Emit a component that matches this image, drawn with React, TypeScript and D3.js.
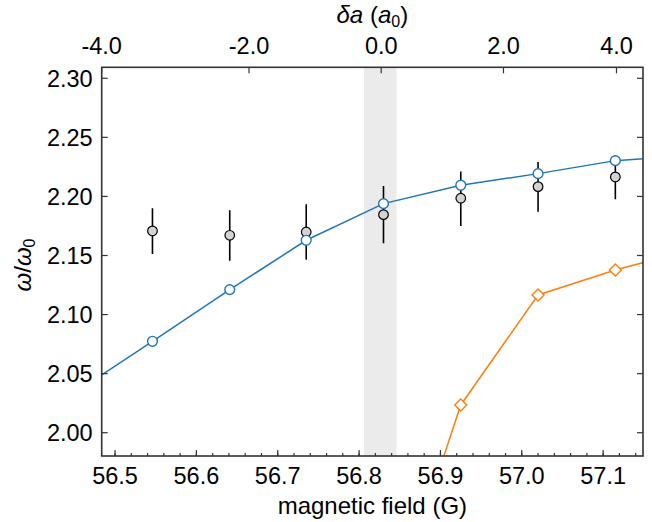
import React from 'react';
import * as d3 from 'd3';

// magnetic field of the calculated / measured points (G)
const lineField = [56.451, 56.546, 56.641, 56.735, 56.83, 56.925, 57.02, 57.115, 57.21];
// calculated branches (null = no point on that branch)
const blueBranch = [2.034, 2.0774, 2.1211, 2.1629, 2.1939, 2.2095, 2.2193, 2.2303, 2.2346];
const orangeBranch = [null, null, null, null, 1.826, 2.0235, 2.1166, 2.1378, 2.155];
const blueMarkerIdx = [1, 2, 3, 4, 5, 6, 7];
const orangeMarkerIdx = [5, 6, 7];

// measured points with error bars
const expField = [56.546, 56.641, 56.735, 56.83, 56.925, 57.02, 57.115];
const expMean = [2.1708, 2.1671, 2.1699, 2.1846, 2.1985, 2.2083, 2.2165];
const expLow = [2.1513, 2.1456, 2.1465, 2.1604, 2.175, 2.1871, 2.1976];
const expHigh = [2.19, 2.1883, 2.1934, 2.2089, 2.221, 2.2292, 2.2351];

// top axis: scattering length offset and where it sits on the field axis
const deltaATicks = [-4, -2, 0, 2, 4];
const deltaAField = [56.4836, 56.6647, 56.8272, 56.9775, 57.1164];

const resonanceBand = [56.806, 56.846];

const fieldTicks = [56.5, 56.6, 56.7, 56.8, 56.9, 57.0, 57.1];
const freqTicks = [2.0, 2.05, 2.1, 2.15, 2.2, 2.25, 2.3];

const W = 652;
const H = 522;
const margin = { top: 67.3, right: 9, bottom: 66, left: 101.7 };
const FONT = '"Liberation Sans", Arial, sans-serif';
const AX = '#333';
const BLUE = '#1f77b4';
const ORANGE = '#ff7f0e';

export default function App() {
  const x = d3.scaleLinear().domain([56.4836, 57.149]).range([margin.left, W - margin.right]);
  const y = d3.scaleLinear().domain([1.9803, 2.3093]).range([H - margin.bottom, margin.top]);
  const top = d3.scaleLinear().domain(deltaATicks).range(deltaAField);

  const x0 = margin.left;
  const x1 = W - margin.right;
  const y0 = margin.top;
  const y1 = H - margin.bottom;

  const line = d3
    .line<number | null>()
    .defined((d) => d !== null)
    .x((_, i) => x(lineField[i]))
    .y((d) => y(d as number));

  const minorTicks = d3.range(56.5, 57.149, 0.02).filter((v) => x(v) > x0 + 1 && x(v) < x1 - 1);

  return (
    <svg width={W} height={H} style={{ position: 'absolute', left: 0, top: 0 }} fontFamily={FONT}>
      <defs>
        <clipPath id="plot">
          <rect x={x0} y={y0} width={x1 - x0} height={y1 - y0} />
        </clipPath>
      </defs>
      <rect x={0} y={0} width={W} height={H} fill="#fff" />

      <g clipPath="url(#plot)">
        <rect
          x={x(resonanceBand[0])}
          y={y0}
          width={x(resonanceBand[1]) - x(resonanceBand[0])}
          height={y1 - y0}
          fill="#ebebeb"
        />
        <path d={line(orangeBranch) || ''} fill="none" stroke={ORANGE} strokeWidth={1.5} />
        <path d={line(blueBranch) || ''} fill="none" stroke={BLUE} strokeWidth={1.5} />

        {expField.map((f, i) => (
          <g key={'e' + i}>
            <line x1={x(f)} x2={x(f)} y1={y(expLow[i])} y2={y(expHigh[i])} stroke="#000" strokeWidth={1.6} />
            <circle cx={x(f)} cy={y(expMean[i])} r={4.8} fill="#d3d3d3" stroke="#000" strokeWidth={1.2} />
          </g>
        ))}

        {orangeMarkerIdx.map((i) => {
          const cx = x(lineField[i]);
          const cy = y(orangeBranch[i] as number);
          const s = 6;
          return (
            <path
              key={'o' + i}
              d={`M${cx},${cy - s}L${cx + s},${cy}L${cx},${cy + s}L${cx - s},${cy}Z`}
              fill="#fff"
              stroke={ORANGE}
              strokeWidth={1.4}
            />
          );
        })}
        {blueMarkerIdx.map((i) => (
          <circle
            key={'b' + i}
            cx={x(lineField[i])}
            cy={y(blueBranch[i])}
            r={4.9}
            fill="#fff"
            stroke={BLUE}
            strokeWidth={1.4}
          />
        ))}
      </g>

      {/* ticks */}
      <g stroke={AX} strokeWidth={1.2}>
        {fieldTicks.map((t) => (
          <line key={'bx' + t} x1={x(t)} x2={x(t)} y1={y1} y2={y1 - 6} />
        ))}
        {minorTicks.map((t) => (
          <line key={'mx' + t} x1={x(t)} x2={x(t)} y1={y1} y2={y1 - 3} />
        ))}
        {freqTicks.map((t) => (
          <g key={'ty' + t}>
            <line x1={x0} x2={x0 + 6} y1={y(t)} y2={y(t)} />
            <line x1={x1} x2={x1 - 6} y1={y(t)} y2={y(t)} />
          </g>
        ))}
        {deltaATicks.map((t) => (
          <line key={'tt' + t} x1={x(top(t))} x2={x(top(t))} y1={y0} y2={y0 + 6} />
        ))}
      </g>

      <rect x={x0} y={y0} width={x1 - x0} height={y1 - y0} fill="none" stroke={AX} strokeWidth={1.6} />

      {/* tick labels */}
      <g fontSize={23.5} fill="#000">
        {fieldTicks.map((t) => (
          <text key={'lx' + t} x={x(t)} y={y1 + 28} textAnchor="middle">
            {t.toFixed(1)}
          </text>
        ))}
        {freqTicks.map((t) => (
          <text key={'ly' + t} x={x0 - 9} y={y(t)} dy="0.36em" textAnchor="end">
            {t.toFixed(2)}
          </text>
        ))}
        {deltaATicks.map((t) => (
          <text key={'lt' + t} x={x(top(t))} y={y0 - 13} textAnchor="middle">
            {t.toFixed(1)}
          </text>
        ))}
      </g>

      {/* axis titles */}
      <text x={(x0 + x1) / 2} y={514} textAnchor="middle" fontSize={24}>
        magnetic field (G)
      </text>
      <text x={(x0 + x1) / 2} y={23} textAnchor="middle" fontSize={24}>
        <tspan fontStyle="italic">δa</tspan>
        <tspan> (</tspan>
        <tspan fontStyle="italic">a</tspan>
        <tspan fontSize={16} dy={4}>0</tspan>
        <tspan dy={-4}>)</tspan>
      </text>
      <text transform={`translate(31,265) rotate(-90)`} textAnchor="middle" fontSize={24}>
        <tspan fontStyle="italic">ω</tspan>
        <tspan>/</tspan>
        <tspan fontStyle="italic">ω</tspan>
        <tspan fontSize={16} dy={4}>0</tspan>
      </text>
    </svg>
  );
}
